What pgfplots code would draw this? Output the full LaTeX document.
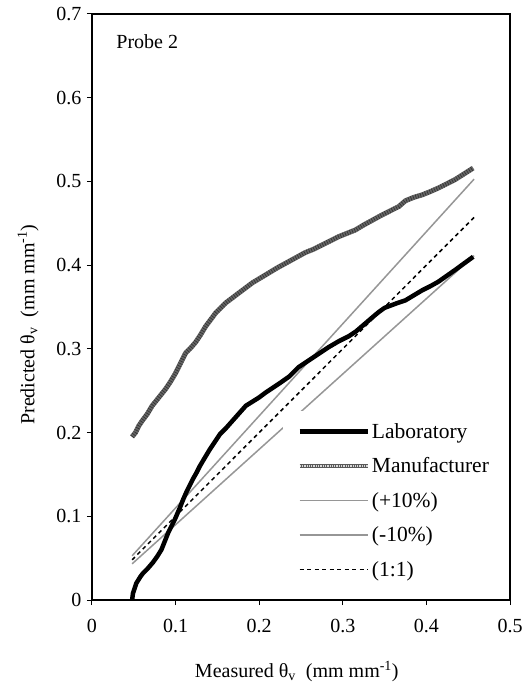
\documentclass[border=0pt]{standalone}
\usepackage{fontspec}
\setmainfont{Liberation Serif}
\usepackage{pgfplots}
\pgfplotsset{compat=1.18}
\definecolor{refgray}{RGB}{150,150,150}
\begin{document}
\begin{tikzpicture}
\begin{axis}[
  scale only axis, width=418pt, height=586pt,
  xmin=0, xmax=0.5, ymin=0, ymax=0.7,
  xtick={0,0.1,0.2,0.3,0.4,0.5}, ytick={0,0.1,0.2,0.3,0.4,0.5,0.6,0.7},
  tick align=outside, major tick length=5pt,
  xtick pos=bottom, ytick pos=left,
  /pgf/number format/assume math mode=true,
  /pgf/number format/fixed, /pgf/number format/precision=1,
  ticklabel style={font=\fontsize{20}{24}\selectfont},
  xticklabel style={yshift=-11pt},
  yticklabel style={xshift=-2pt},
  xlabel={Measured θ\textsubscript{v}\ \ (mm mm\textsuperscript{-1})},
  ylabel={Predicted θ\textsubscript{v}\ \ (mm mm\textsuperscript{-1})},
  label style={font=\fontsize{20}{24}\selectfont},
  xlabel style={at={(axis description cs:0.49,-0.122)}, anchor=center},
  ylabel style={at={(axis description cs:-0.153,0.47)}, anchor=center},
  axis line style={line width=1.2pt},
  tick style={line width=1pt, black},
  legend style={at={(0.4575,0.3225)}, anchor=north west, fill=white, draw=none,
    font=\fontsize{21.5}{25}\selectfont, inner xsep=14pt, inner ysep=10pt,
    row sep=14pt},
  legend cell align=left,
  legend image code/.code={\draw[#1] (0pt,0pt) -- (68pt,0pt);},
]
% reference lines
\addplot[refgray, line width=1.5pt, forget plot] coordinates {(0.048,0.0528) (0.457,0.5027)};
\addplot[refgray, line width=1.5pt, forget plot] coordinates {(0.048,0.0432) (0.457,0.4113)};
\addplot[black, line width=1.5pt, dash pattern=on 4pt off 3.5pt, forget plot] coordinates {(0.048,0.048) (0.457,0.457)};
% Laboratory
\addplot[black, line width=4.5pt, line join=round] coordinates {
(0.048,0.000) (0.049,0.008) (0.053,0.020) (0.058,0.028) (0.061,0.032)
(0.067,0.038) (0.073,0.045) (0.078,0.052) (0.083,0.060) (0.087,0.070)
(0.091,0.080) (0.095,0.088) (0.099,0.096) (0.105,0.110) (0.109,0.120)
(0.113,0.129) (0.117,0.137) (0.121,0.145) (0.125,0.152) (0.129,0.160)
(0.135,0.170) (0.141,0.180) (0.147,0.189) (0.153,0.198) (0.160,0.205)
(0.168,0.214) (0.176,0.223) (0.184,0.232) (0.192,0.237) (0.200,0.242)
(0.208,0.248) (0.217,0.254) (0.226,0.260) (0.236,0.267) (0.247,0.278)
(0.259,0.286) (0.271,0.294) (0.283,0.302) (0.295,0.309) (0.307,0.315)
(0.316,0.321) (0.323,0.327) (0.330,0.333) (0.337,0.339) (0.343,0.344)
(0.350,0.349) (0.358,0.352) (0.366,0.355) (0.375,0.358) (0.385,0.364)
(0.395,0.370) (0.405,0.375) (0.414,0.380) (0.424,0.387) (0.434,0.394)
(0.445,0.402) (0.456,0.410)};
\addlegendentry{Laboratory}
% Manufacturer
\pgfplotstableread{
x y
0.048 0.195
0.052 0.200
0.056 0.208
0.060 0.214
0.066 0.222
0.072 0.232
0.080 0.242
0.088 0.252
0.094 0.261
0.100 0.271
0.106 0.283
0.112 0.295
0.118 0.301
0.124 0.308
0.130 0.317
0.136 0.327
0.142 0.335
0.148 0.343
0.154 0.349
0.160 0.355
0.168 0.361
0.176 0.367
0.184 0.373
0.192 0.379
0.202 0.385
0.212 0.391
0.222 0.397
0.233 0.403
0.244 0.409
0.255 0.415
0.265 0.419
0.275 0.424
0.285 0.429
0.295 0.434
0.305 0.438
0.315 0.442
0.325 0.448
0.336 0.454
0.347 0.460
0.357 0.465
0.367 0.470
0.375 0.477
0.385 0.481
0.395 0.484
0.405 0.488
0.414 0.492
0.424 0.497
0.434 0.502
0.445 0.509
0.456 0.516
}\manuf
\addplot[black!60, line width=5pt, line join=round,
  legend image code/.code={\draw[black!65,line width=4pt] (0pt,0pt) -- (68pt,0pt);
    \draw[white!85!black,line width=1.3pt,densely dotted] (0pt,0pt) -- (68pt,0pt);}] table {\manuf};
\addlegendentry{Manufacturer}
\addplot[black!80, line width=4.5pt, dash pattern=on 0.7pt off 1.8pt, forget plot] table {\manuf};
\addlegendimage{refgray, line width=1.5pt}
\addlegendentry{(+10\%)}
\addlegendimage{refgray, line width=1.5pt}
\addlegendentry{(-10\%)}
\addlegendimage{black, line width=1.5pt, dash pattern=on 4pt off 3.5pt}
\addlegendentry{(1:1)}
\node[anchor=west, font=\fontsize{20}{24}\selectfont] at (rel axis cs:0.05,0.952) {Probe 2};
\coordinate (SW) at (rel axis cs:0,0);
\coordinate (NE) at (rel axis cs:1,1);
\end{axis}
\path ([shift={(-92pt,-89pt)}]SW) rectangle ([shift={(21pt,14pt)}]NE);
\end{tikzpicture}
\end{document}
